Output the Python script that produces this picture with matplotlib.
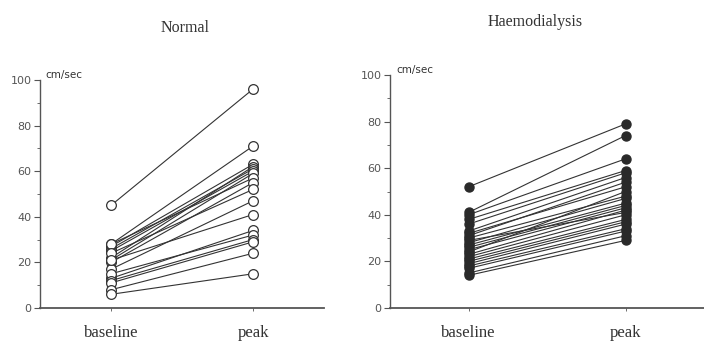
import numpy as np
import matplotlib
matplotlib.use("Agg")
import matplotlib.pyplot as plt
from matplotlib.ticker import MultipleLocator

# values (cm/sec)
groups = ["Normal", "Haemodialysis"]
conditions = ["baseline", "peak"]
yticks = [0, 20, 40, 60, 80, 100]

normal_base = [45, 28, 27, 22, 26, 25, 21, 28, 20, 24, 17, 21, 13, 15, 12, 11, 8, 6]
normal_peak = [96, 71, 63, 62, 61, 60, 59, 57, 55, 52, 47, 41, 34, 32, 30, 29, 24, 15]

haemo_base = [52, 41, 40, 38, 36, 33, 31, 32, 24, 30, 28, 27, 26, 25, 23, 29, 22, 21, 20, 19, 18, 17, 15, 14]
haemo_peak = [79, 74, 64, 59, 58, 56, 54, 52, 50, 48, 47, 45, 44, 43, 42, 41, 40, 38, 37, 36, 34, 33, 31, 29]

ink = "#333333"
grey = "#555555"
serif = ["Liberation Serif", "DejaVu Serif"]

fig = plt.figure(figsize=(7.04, 3.43), dpi=100)
ax1 = fig.add_axes([40 / 704, 1 - 308 / 343, 284 / 704, 228 / 343])
ax2 = fig.add_axes([390 / 704, 1 - 308 / 343, 314 / 704, 233 / 343])

x = [1, 2]

for b, p in zip(normal_base, normal_peak):
    ax1.plot(x, [b, p], color=ink, lw=0.8, marker="o", ms=7,
             mfc="white", mec=ink, mew=0.9, zorder=2)

for b, p in zip(haemo_base, haemo_peak):
    ax2.plot(x, [b, p], color=ink, lw=0.8, marker="o", ms=6.5,
             mfc="#2a2a2a", mec="#2a2a2a", zorder=2)

for ax in (ax1, ax2):
    ax.set_xlim(0.5, 2.5)
    ax.set_ylim(0, 100)
    ax.spines["top"].set_visible(False)
    ax.spines["right"].set_visible(False)
    ax.spines["left"].set_color(grey)
    ax.spines["bottom"].set_color(grey)
    ax.spines["left"].set_linewidth(1.0)
    ax.spines["bottom"].set_linewidth(1.3)
    ax.set_yticks(yticks)
    ax.yaxis.set_minor_locator(MultipleLocator(10))
    ax.tick_params(axis="y", which="major", length=4, width=0.8, color=grey,
                   labelsize=8, labelcolor=grey, pad=2)
    ax.tick_params(axis="y", which="minor", length=2, width=0.6, color=grey)
    ax.set_xticks(x)
    ax.set_xticklabels(conditions, family=serif, fontsize=12, color=ink)
    ax.tick_params(axis="x", length=2, width=0.6, color=grey, pad=10)
    ax.text(0.54, 102, "cm/sec", fontsize=7.5, color=ink, va="center", ha="left")

fig.text(185 / 704, 1 - 28 / 343, groups[0], family=serif,
         fontsize=11.5, color=ink, ha="center", va="center")
fig.text(535 / 704, 1 - 22 / 343, groups[1], family=serif,
         fontsize=11.5, color=ink, ha="center", va="center")

fig.savefig("out.png", dpi=100)
